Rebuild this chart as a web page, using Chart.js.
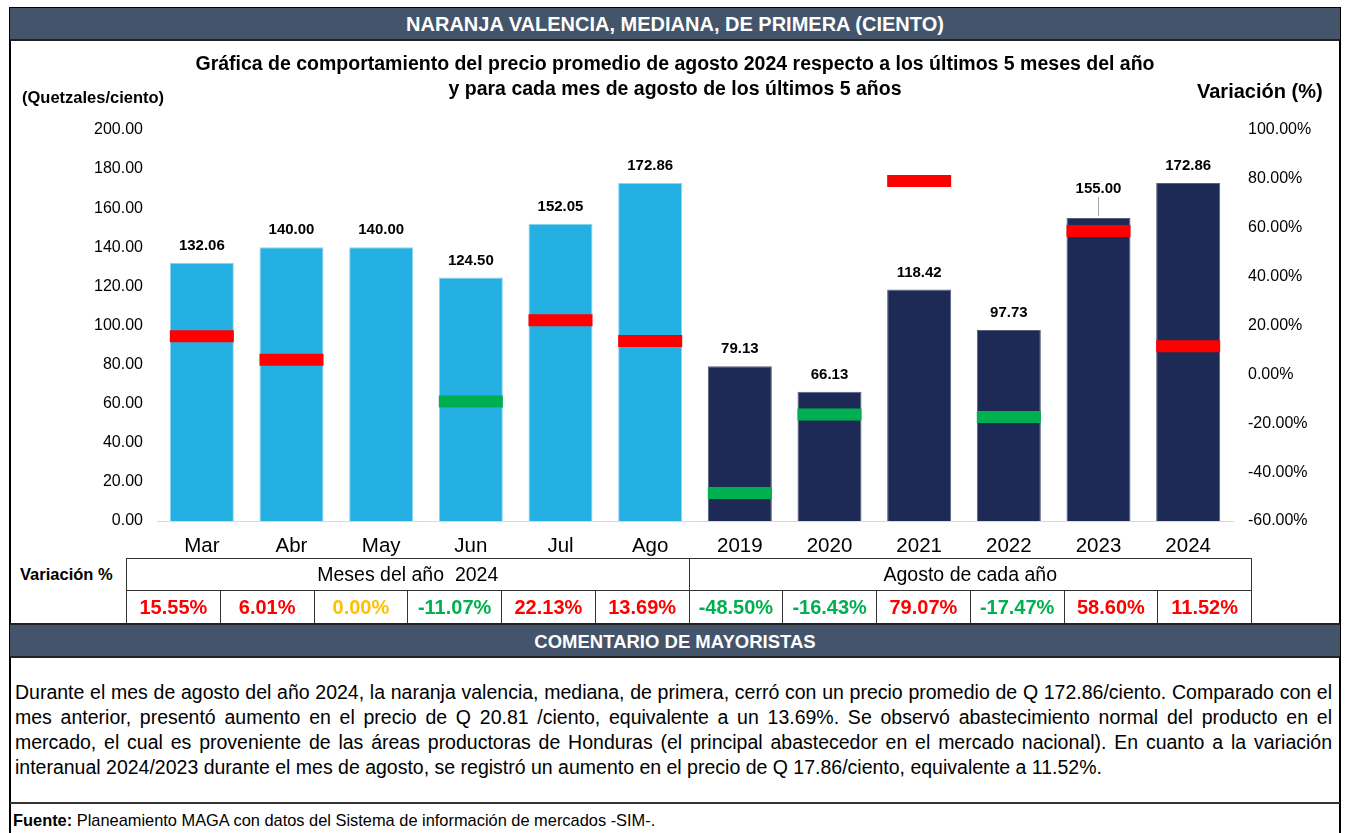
<!DOCTYPE html>
<html lang="es">
<head>
<meta charset="utf-8">
<title>Naranja valencia, mediana, de primera</title>
<script src="https://cdn.jsdelivr.net/npm/chart.js@4.4.1/dist/chart.umd.min.js"></script>
<style>
  html, body { margin: 0; padding: 0; background: #fff; }
  body { width: 1348px; height: 833px; position: relative; overflow: hidden;
         font-family: "Liberation Sans", Arial, sans-serif; color: #000; }
  .marco { position: absolute; left: 9px; top: 7px; width: 1332px; height: 840px;
           border: 2px solid #000; box-sizing: border-box; }
  .barra { position: absolute; left: 10px; width: 1330px; background: #44546A; color: #fff;
           font-weight: bold; text-align: center; box-sizing: border-box; }
  #titulo { top: 8px; height: 33px; line-height: 32px; font-size: 20px; border-bottom: 2px solid #222; }
  #comentarioTitulo { top: 623px; height: 35px; line-height: 33px; font-size: 18.5px;
                      border-top: 2px solid #222; border-bottom: 2px solid #222; }
  #grafico { position: absolute; left: 12px; top: 42px; width: 1326px; height: 523px; }
  .etiqueta { position: absolute; font-weight: bold; white-space: nowrap; }
  #unidad { left: 22px; top: 88px; font-size: 16.5px; }
  #unidad2 { left: 1197px; top: 80px; font-size: 20px; }
  #varLabel { left: 20px; top: 565px; font-size: 16.5px; }
  table.variacion { position: absolute; left: 126px; top: 558px; width: 1126px;
                    border-collapse: collapse; table-layout: fixed; }
  table.variacion td { border: 1px solid #333; text-align: center; padding: 0; }
  table.variacion tr.grupo td { height: 31px; font-size: 19.5px; }
  table.variacion tr.valores td { height: 32px; font-size: 20px; font-weight: bold; }
  #comentario { position: absolute; left: 15px; top: 680px; width: 1317px; font-size: 19.5px; line-height: 25px; }
  #comentario div { white-space: nowrap; text-align: justify; text-align-last: justify; }
  #comentario div.ultima { text-align-last: left; }
  #lineaFuente { position: absolute; left: 10px; top: 802px; width: 1330px; height: 0;
                 border-top: 2px solid #333; }
  #fuente { position: absolute; left: 13px; top: 811px; font-size: 16.4px; white-space: nowrap; }
</style>
</head>
<body>
<div class="marco"></div>
<div class="barra" id="titulo">NARANJA VALENCIA, MEDIANA, DE PRIMERA (CIENTO)</div>
<div id="grafico"><canvas id="graficoPrecios"></canvas></div>
<div class="etiqueta" id="unidad">(Quetzales/ciento)</div>
<div class="etiqueta" id="unidad2">Variación (%)</div>
<div class="etiqueta" id="varLabel">Variación %</div>
<table class="variacion" id="tablaVariacion"></table>
<div class="barra" id="comentarioTitulo">COMENTARIO DE MAYORISTAS</div>
<div id="comentario">
  <div>Durante el mes de agosto del año 2024, la naranja valencia, mediana, de primera, cerró con un precio promedio de Q 172.86/ciento. Comparado con el</div>
  <div>mes anterior, presentó aumento en el precio de Q 20.81 /ciento, equivalente a un 13.69%. Se observó abastecimiento normal del producto en el</div>
  <div>mercado, el cual es proveniente de las áreas productoras de Honduras (el principal abastecedor en el mercado nacional). En cuanto a la variación</div>
  <div class="ultima">interanual 2024/2023 durante el mes de agosto, se registró un aumento en el precio de Q 17.86/ciento, equivalente a 11.52%.</div>
</div>
<div id="lineaFuente"></div>
<div id="fuente"><b>Fuente:</b> Planeamiento MAGA con datos del Sistema de información de mercados -SIM-.</div>

<script>
// categorias: ultimos meses de 2024 y agosto de cada año
const categorias = ["Mar", "Abr", "May", "Jun", "Jul", "Ago", "2019", "2020", "2021", "2022", "2023", "2024"];
const precios = [132.06, 140.00, 140.00, 124.50, 152.05, 172.86, 79.13, 66.13, 118.42, 97.73, 155.00, 172.86];
const variaciones = [15.55, 6.01, 0.00, -11.07, 22.13, 13.69, -48.50, -16.43, 79.07, -17.47, 58.60, 11.52];
const grupos = ["Meses del año  2024", "Agosto de cada año"];
const mesesPorGrupo = [6, 6];
const ticksPrecio = [0, 20, 40, 60, 80, 100, 120, 140, 160, 180, 200];
const ticksVariacion = [-60, -40, -20, 0, 20, 40, 60, 80, 100];

const celeste = "#25B0E3";
const azulOscuro = "#1D2A55";
const rojo = "#FF0000";
const verde = "#00B050";
const amarillo = "#FFC000";

function colorVariacion(v) {
  if (v > 0) return rojo;
  if (v < 0) return verde;
  return amarillo;
}

// tabla de variaciones debajo de la grafica
const tabla = document.getElementById("tablaVariacion");
let filaGrupo = "<tr class='grupo'>";
grupos.forEach((g, i) => {
  filaGrupo += `<td colspan="${mesesPorGrupo[i]}">${g.replace(/  /g, "&nbsp; ")}</td>`;
});
filaGrupo += "</tr>";
let filaValores = "<tr class='valores'>";
variaciones.forEach((v) => {
  filaValores += `<td style="color:${colorVariacion(v)}">${v.toFixed(2)}%</td>`;
});
filaValores += "</tr>";
tabla.innerHTML = filaGrupo + filaValores;

const fuenteEjes = "'Liberation Sans', Arial, sans-serif";

// etiquetas de valor encima de cada barra
const etiquetasBarras = {
  id: "etiquetasBarras",
  afterDatasetsDraw(chart) {
    const ctx = chart.ctx;
    const barras = chart.getDatasetMeta(0).data;
    const marcas = chart.getDatasetMeta(1).data;
    ctx.save();
    ctx.font = "bold 15px " + fuenteEjes;
    ctx.fillStyle = "#000";
    ctx.textAlign = "center";
    ctx.textBaseline = "middle";
    barras.forEach((bar, i) => {
      let y = bar.y - 17;
      const marca = marcas[i];
      if (variaciones[i] !== 0 && marca && marca.y - bar.y < 20 && marca.y - bar.y > -8) {
        y = bar.y - 29;
        ctx.strokeStyle = "#A6A6A6";
        ctx.lineWidth = 1;
        ctx.beginPath();
        ctx.moveTo(bar.x, y + 8);
        ctx.lineTo(bar.x, bar.y - 2);
        ctx.stroke();
      }
      ctx.fillText(precios[i].toFixed(2), bar.x, y);
    });
    ctx.restore();
  }
};

new Chart(document.getElementById("graficoPrecios"), {
  data: {
    labels: categorias,
    datasets: [
      {
        type: "bar",
        label: "Precio promedio",
        data: precios,
        yAxisID: "y",
        backgroundColor: precios.map((_, i) => (i < mesesPorGrupo[0] ? celeste : azulOscuro)),
        borderColor: precios.map((_, i) => (i < mesesPorGrupo[0] ? "#8FD3F0" : "#56607F")),
        borderWidth: 1,
        barPercentage: 0.714,
        categoryPercentage: 1,
        order: 2
      },
      {
        type: "line",
        label: "Variación",
        data: variaciones,
        yAxisID: "y2",
        showLine: false,
        pointStyle: "line",
        pointRadius: (c) => (variaciones[c.dataIndex] === 0 ? 0 : 32),
        pointHoverRadius: 32,
        pointBorderWidth: 12,
        pointBorderColor: variaciones.map(colorVariacion),
        pointBackgroundColor: variaciones.map(colorVariacion),
        order: 1
      }
    ]
  },
  options: {
    responsive: true,
    maintainAspectRatio: false,
    animation: false,
    layout: { padding: 0 },
    plugins: {
      legend: { display: false },
      tooltip: { enabled: false },
      title: {
        display: true,
        text: [
          "Gráfica de comportamiento del precio promedio de agosto 2024 respecto a los últimos 5 meses del año",
          "y para cada mes de agosto de los últimos 5 años"
        ],
        color: "#000",
        font: { family: fuenteEjes, size: 19.5, weight: "bold", lineHeight: 1.28 },
        padding: { top: 10, bottom: 28 }
      }
    },
    scales: {
      x: {
        grid: { display: false, drawTicks: false },
        border: { display: true, color: "#D9D9D9", width: 1 },
        ticks: { color: "#000", padding: 13, font: { family: fuenteEjes, size: 20.5 } },
        afterFit(scale) { scale.height = 37; }
      },
      y: {
        position: "left",
        min: 0,
        max: 200,
        grid: { display: false, drawTicks: false },
        border: { display: false },
        afterBuildTicks(scale) { scale.ticks = ticksPrecio.map((v) => ({ value: v })); },
        ticks: {
          color: "#000",
          padding: 14,
          font: { family: fuenteEjes, size: 16 },
          callback: (v) => v.toFixed(2)
        },
        afterFit(scale) { scale.width = 145; }
      },
      y2: {
        position: "right",
        min: -60,
        max: 100,
        grid: { display: false, drawTicks: false },
        border: { display: false },
        afterBuildTicks(scale) { scale.ticks = ticksVariacion.map((v) => ({ value: v })); },
        ticks: {
          color: "#000",
          padding: 15,
          font: { family: fuenteEjes, size: 16 },
          callback: (v) => v.toFixed(2) + "%"
        },
        afterFit(scale) { scale.width = 105; }
      }
    }
  },
  plugins: [etiquetasBarras]
});
</script>
</body>
</html>
